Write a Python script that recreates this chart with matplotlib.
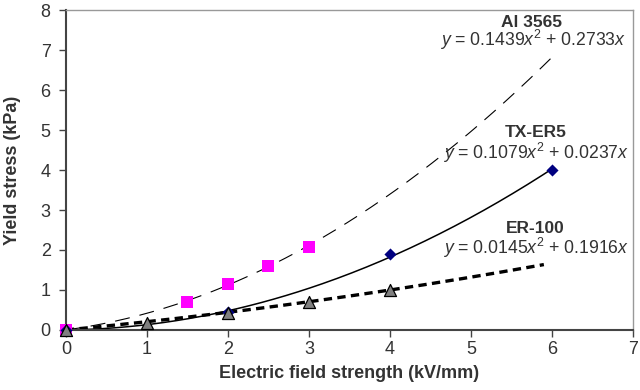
import numpy as np
import matplotlib
matplotlib.use("Agg")
import matplotlib.pyplot as plt

plt.rcParams['font.family'] = ['Liberation Sans', 'DejaVu Sans']
plt.rcParams['mathtext.fontset'] = 'custom'
plt.rcParams['mathtext.it'] = 'Liberation Sans:italic'
plt.rcParams['mathtext.rm'] = 'Liberation Sans'

# Data points
ai_x = [0, 1.5, 2, 2.5, 3]
ai_y = [0, 0.7, 1.15, 1.6, 2.08]
tx_x = [0, 2, 4, 6]
tx_y = [0, 0.45, 1.9, 4.0]
er_x = [0, 1, 2, 3, 4]
er_y = [0, 0.17, 0.43, 0.71, 1.0]

# Trendline coefficients (y = a x^2 + b x) as displayed
ai_coef = [0.1439, 0.2733, 0]
tx_coef = [0.1079, 0.0237, 0]
er_coef = [0.0145, 0.1916, 0]
ai_xmax, tx_xmax, er_xmax = 6.0, 6.0, 5.9

xticks = list(range(0, 8))
yticks = list(range(0, 9))

fig = plt.figure(figsize=(6.4, 3.9), dpi=100)
ax = fig.add_axes([0.103, 0.154, 0.886, 0.82])

tc = '#333333'
xs = np.linspace(0, ai_xmax, 200)
ax.plot(xs, np.polyval(ai_coef, xs), color='black', lw=0.8, dashes=(13.5, 9), zorder=2)
xs = np.linspace(0, tx_xmax, 200)
ax.plot(xs, np.polyval(tx_coef, xs), color='black', lw=1.1, zorder=2)
xs = np.linspace(0, er_xmax, 200)
ax.plot(xs, np.polyval(er_coef, xs), color='black', lw=2.4, dashes=(2.5, 1.6), zorder=2)

ax.scatter(ai_x, ai_y, marker='s', s=85, color='#ff00ff', zorder=3, linewidths=0, clip_on=False)
ax.scatter(tx_x, tx_y, marker='D', s=38, color='#000080', zorder=3, linewidths=0, clip_on=False)
ax.scatter(er_x, er_y, marker='^', s=75, color='#808080', edgecolors='black', linewidths=0.9,
           zorder=4, clip_on=False)

ax.set_xlim(0, 7)
ax.set_ylim(0, 8)
ax.set_xticks(xticks)
ax.set_yticks(yticks)
ax.tick_params(axis='both', direction='out', length=5, width=1, colors='#444444',
               labelsize=13, labelcolor=tc)
ax.tick_params(axis='y', pad=6)
ax.tick_params(axis='x', pad=3)
for s in ['left', 'bottom']:
    ax.spines[s].set_color('#444444')
    ax.spines[s].set_linewidth(1.5)
for s in ['top', 'right']:
    ax.spines[s].set_color('#999999')
    ax.spines[s].set_linewidth(1.0)

ax.set_xlabel('Electric field strength (kV/mm)', fontsize=13, fontweight='bold', color=tc, labelpad=5)
ax.set_ylabel('Yield stress (kPa)', fontsize=13, fontweight='bold', color=tc, labelpad=14)

def label(name, eq, xn, yn, xe, ye):
    ax.text(xn, yn, name, fontsize=12.5, fontweight='bold', color=tc, ha='center', va='center',
            transform=ax.transData)
    ax.text(xe, ye, eq, fontsize=12.7, color=tc, ha='right', va='center', transform=ax.transData)

label('Al 3565', r'$\mathit{y}$ = 0.1439$\mathit{x}^2$ + 0.2733$\mathit{x}$', 5.75, 7.7, 6.92, 7.25)
label('TX-ER5', r'$\mathit{y}$ = 0.1079$\mathit{x}^2$ + 0.0237$\mathit{x}$', 5.80, 4.95, 6.95, 4.42)
label('ER-100', r'$\mathit{y}$ = 0.0145$\mathit{x}^2$ + 0.1916$\mathit{x}$', 5.79, 2.55, 6.95, 2.05)

fig.savefig('out.png', dpi=100)
